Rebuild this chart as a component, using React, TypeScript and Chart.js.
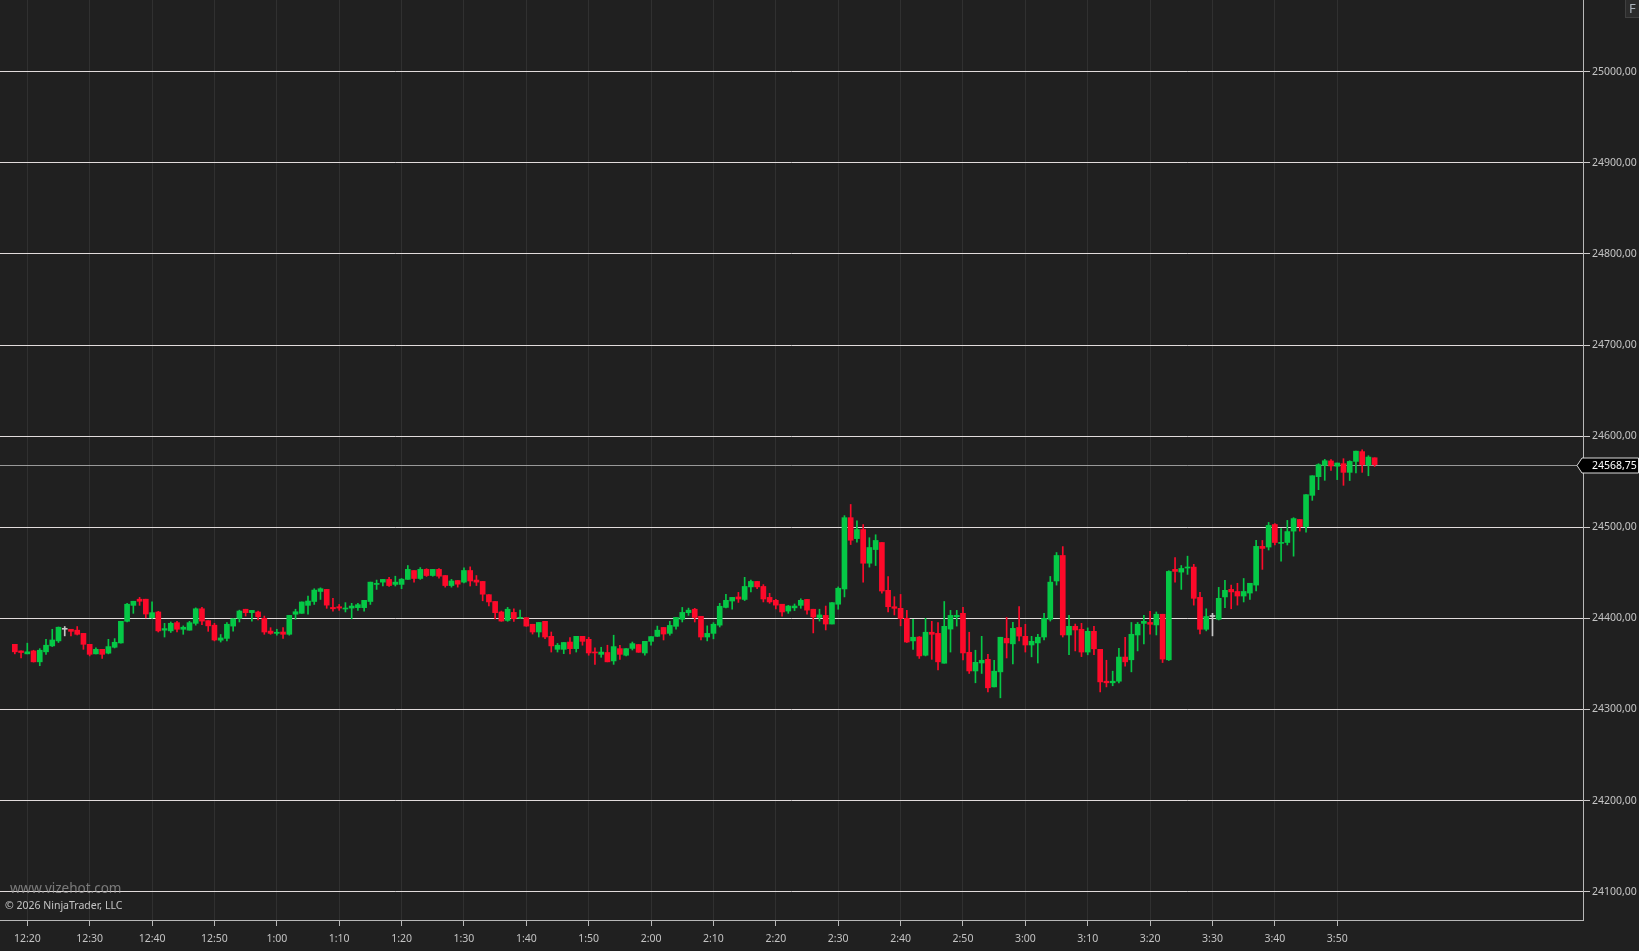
import { useEffect, useRef } from 'react';
import { Chart, registerables } from 'chart.js';

Chart.register(...registerables);

// 1-minute bars, first bar at 12:18 (two minutes before the 12:20 tick)
const FIRST_BAR_MINUTE = -2;

const OPEN = [
  24371.5, 24364.25, 24361, 24364.25, 24352.25, 24363.25, 24369.75, 24375.25, 24388, 24388,
  24387, 24383.5, 24371.5, 24361, 24366, 24361.75, 24368.25, 24373, 24396.75, 24414.25,
  24421, 24421, 24400.75, 24407, 24387, 24386.25, 24395.25, 24388, 24387, 24394.5,
  24410.5, 24397.5, 24392.5, 24376, 24378, 24391.5, 24400, 24410, 24406.25, 24407,
  24400, 24386, 24383.5, 24385, 24382.5, 24404.5, 24405.5, 24414.25, 24418.5, 24429.5,
  24431.75, 24412, 24412.75, 24410.25, 24411.25, 24411.75, 24411.75, 24418.5, 24437.25, 24439.75,
  24442.75, 24437.25, 24437.25, 24442.75, 24452.5, 24443.75, 24453.75, 24447, 24453.75, 24447,
  24436, 24441.5, 24439.75, 24452.5, 24442, 24440.5, 24426, 24418.5, 24407, 24397.75,
  24406.5, 24400, 24400.75, 24393.5, 24385, 24396.75, 24380.25, 24366, 24366, 24374,
  24366.75, 24380.25, 24377, 24363, 24360.5, 24362.5, 24353.25, 24366.75, 24359.5, 24367,
  24371.25, 24362, 24374.75, 24380.25, 24390, 24383.5, 24391.25, 24399, 24406.25, 24410,
  24402.25, 24379.5, 24383.5, 24392.5, 24412, 24419, 24423.5, 24420.75, 24434.5, 24440.5,
  24435, 24423, 24419.75, 24415.5, 24408, 24411.5, 24414.25, 24420.75, 24410, 24401,
  24403.25, 24393.75, 24415.5, 24432.25, 24510.5, 24487.5, 24497.5, 24460.5, 24475.5, 24483.25,
  24430.75, 24412.75, 24411, 24400, 24375.25, 24379.5, 24359.5, 24384.75, 24383.5, 24350.75,
  24388.25, 24401.75, 24405.5, 24362.75, 24342.25, 24351, 24355, 24324.75, 24341.25, 24378,
  24372, 24390, 24380.25, 24370.75, 24373, 24379.5, 24399, 24441, 24469, 24381.75,
  24391.25, 24388, 24363, 24385.75, 24366, 24331, 24329.25, 24331, 24357.5, 24354.5,
  24381.75, 24394.5, 24395.5, 24392.75, 24404.5, 24354.5, 24453.75, 24450.75, 24455.25, 24456.25,
  24423, 24388, 24402, 24399, 24423.5, 24431.75, 24429.5, 24424.5, 24427.75, 24436.5,
  24479, 24478.25, 24503, 24482.25, 24483.25, 24495.75, 24508.5, 24500.75, 24535, 24555.5,
  24568, 24572.75, 24567, 24569.75, 24560.25, 24572.25, 24583, 24568.25, 24576.25,
];

const HIGH = [
  24371.5, 24364.25, 24372.75, 24365, 24366.75, 24377, 24388, 24390.5, 24391, 24388,
  24391, 24383.5, 24371.5, 24367.5, 24366, 24377, 24377.75, 24396.75, 24416.5, 24418.75,
  24423, 24421, 24418, 24407.75, 24394.5, 24396, 24396.75, 24391.75, 24396.75, 24411.5,
  24412, 24397.5, 24394.5, 24382.25, 24395.25, 24399.5, 24409, 24410, 24408.75, 24408,
  24402.5, 24389.75, 24388, 24389.75, 24403.25, 24410, 24418, 24424.5, 24432.5, 24433.5,
  24431.75, 24422, 24415.25, 24417.25, 24416.5, 24416.5, 24419.75, 24439.75, 24442, 24442.75,
  24445, 24446.25, 24443.75, 24458, 24452.5, 24455.75, 24454.5, 24453.75, 24454.5, 24447,
  24442.75, 24441.5, 24455.5, 24456.5, 24447, 24440.5, 24426, 24418.5, 24408, 24412,
  24410.5, 24409, 24400.75, 24393.5, 24395.5, 24396.75, 24385, 24372.5, 24373.5, 24378.75,
  24380.25, 24380.25, 24379.25, 24367.5, 24368.25, 24370.5, 24381.5, 24370.5, 24366.75, 24374,
  24371.25, 24374.75, 24380, 24391.5, 24390, 24396.75, 24401, 24412, 24411.25, 24411,
  24402.25, 24391.75, 24395.25, 24416.5, 24426.25, 24423, 24428.5, 24445, 24442, 24440.5,
  24437, 24427.5, 24420.75, 24415.5, 24414.25, 24415.75, 24421.5, 24420.75, 24410, 24410,
  24413.5, 24417.25, 24434.5, 24512.75, 24525, 24507, 24503, 24488.5, 24491.75, 24483.25,
  24445.75, 24423.75, 24426.25, 24408.75, 24399, 24380, 24400, 24396.75, 24395.25, 24418.5,
  24408.75, 24408.75, 24412, 24384.75, 24365, 24380.25, 24360.5, 24354, 24379.25, 24401,
  24395.5, 24413, 24393.5, 24380.25, 24382.5, 24405.5, 24446, 24472.25, 24478.75, 24403.25,
  24393.75, 24394.5, 24389.5, 24391.25, 24366, 24354, 24342, 24367, 24379.25, 24395.5,
  24395.5, 24403.25, 24407.75, 24407, 24404.5, 24452.25, 24466.75, 24458, 24468.25, 24459.25,
  24428.5, 24410.5, 24405.5, 24434, 24441.75, 24436.5, 24438.5, 24443.75, 24438.5, 24485.5,
  24485.5, 24505.25, 24504, 24498.5, 24507.5, 24510.5, 24508.5, 24535.75, 24556.5, 24569.75,
  24574.5, 24574.25, 24570.5, 24575.25, 24573, 24583.5, 24585, 24578.5, 24576.25,
];

const LOW = [
  24361, 24356.5, 24361, 24352, 24348, 24360.5, 24369, 24373.5, 24380.75, 24380.75,
  24381.75, 24366, 24358.75, 24361, 24356, 24361, 24367.5, 24372.75, 24396, 24405.5,
  24414.25, 24400.5, 24400, 24385, 24379.5, 24384.5, 24385, 24382.5, 24387, 24392.5,
  24393, 24385.75, 24375.25, 24374, 24375.25, 24386, 24396, 24402.5, 24397, 24398.25,
  24382.5, 24382.5, 24381.5, 24378, 24381.5, 24399, 24405.5, 24404.5, 24415.25, 24420.75,
  24411, 24408, 24408.75, 24407, 24399.5, 24408.75, 24408, 24415.25, 24431.75, 24435.5,
  24435, 24435.5, 24432.5, 24442.75, 24439.75, 24442.75, 24446, 24446.25, 24444, 24434.25,
  24434.25, 24434.25, 24439, 24435.5, 24436, 24419.25, 24413.5, 24399.5, 24396.75, 24396.75,
  24396.75, 24400, 24391.25, 24382.75, 24379.5, 24377.75, 24363, 24363, 24361.25, 24361,
  24363, 24370.5, 24359.5, 24349.5, 24357.25, 24352.25, 24349.5, 24355, 24358.75, 24365.25,
  24362.75, 24359.5, 24370.5, 24380, 24376.25, 24381.5, 24388, 24396, 24403.25, 24396,
  24376.25, 24375.25, 24377.5, 24390.5, 24411.5, 24410, 24417.5, 24419.5, 24429, 24432.5,
  24418, 24416.5, 24410.25, 24402.25, 24405.5, 24408.5, 24411, 24404.5, 24384, 24397,
  24387.25, 24393.75, 24410, 24423.5, 24481, 24483.5, 24439.75, 24456.25, 24458, 24427.75,
  24407, 24403.75, 24391.75, 24373.5, 24366, 24356, 24358.75, 24355, 24343.5, 24350.75,
  24363, 24391.5, 24354.5, 24339.5, 24329.25, 24339.5, 24319.25, 24324.75, 24312.75, 24356.5,
  24350, 24375.25, 24363, 24357.75, 24351, 24376.25, 24397, 24436.5, 24379.5, 24360,
  24364.25, 24358, 24360, 24360, 24319.25, 24324.75, 24326, 24329.25, 24347.5, 24341.25,
  24364.25, 24372, 24382.5, 24381.75, 24351.5, 24353.75, 24439.75, 24431.75, 24448.25, 24414.5,
  24383, 24386.25, 24380.75, 24398.25, 24411.75, 24410.5, 24414.5, 24418, 24420.75, 24430,
  24453.75, 24475, 24480.5, 24462.75, 24480.5, 24468.25, 24495.75, 24494.5, 24529.5, 24541.25,
  24551.5, 24562.5, 24552.25, 24546, 24551.25, 24559.5, 24560.25, 24556.5, 24566.75,
];

const CLOSE = [
  24363.25, 24362.5, 24363.25, 24352.25, 24365, 24370.5, 24376.25, 24390.25, 24388, 24385.75,
  24382.5, 24371.5, 24360.5, 24366, 24360.5, 24369, 24373.75, 24396.75, 24415.5, 24418.75,
  24418.75, 24404.75, 24406.25, 24386.25, 24388.75, 24394.5, 24388, 24390.25, 24395.25, 24410.5,
  24397, 24391.75, 24376.25, 24378.5, 24393.5, 24399.5, 24408, 24406.25, 24408.75, 24401.75,
  24385, 24383.5, 24384.75, 24382.5, 24403.25, 24407.25, 24418, 24419, 24431, 24432.5,
  24414.5, 24410.5, 24411.25, 24411.25, 24413.5, 24415, 24419.75, 24439.75, 24438.25, 24442.75,
  24436, 24439.75, 24443, 24453.75, 24443.75, 24453.75, 24447, 24453.75, 24446.25, 24436,
  24441, 24437.5, 24452.5, 24441, 24439.75, 24426.5, 24418, 24406.25, 24397, 24410,
  24399.5, 24401, 24391.5, 24385, 24395.5, 24379.5, 24369.75, 24370.5, 24373.5, 24366.75,
  24380.25, 24374.75, 24362, 24362, 24363, 24352.25, 24369, 24360.5, 24366.75, 24372.25,
  24362.75, 24374.75, 24380, 24387, 24382.75, 24392.25, 24401, 24406.5, 24409, 24401,
  24379.5, 24383.5, 24393.5, 24413.25, 24419.75, 24423, 24421.25, 24435, 24440.5, 24434.5,
  24421.25, 24418, 24414.5, 24407, 24413.5, 24413.5, 24419.75, 24409, 24401.5, 24403.75,
  24393.75, 24417.25, 24433, 24510.5, 24485.75, 24497.5, 24460.5, 24477.75, 24485.5, 24430,
  24412.75, 24411, 24399.75, 24374, 24379.25, 24358.75, 24384.75, 24382.5, 24352.25, 24391.25,
  24403.25, 24403.25, 24362, 24342.25, 24351.75, 24354, 24323.75, 24342, 24379.25, 24373,
  24389, 24380.5, 24370.75, 24374.75, 24379.25, 24400, 24439.75, 24469, 24381.75, 24391.25,
  24387.25, 24363, 24385.75, 24366.5, 24330.25, 24329.25, 24331, 24357.5, 24352.25, 24382.5,
  24393.5, 24396.75, 24393.5, 24404.5, 24355.25, 24451.5, 24451.5, 24454.75, 24456.25, 24422,
  24388, 24402, 24402, 24422, 24430.75, 24429, 24424.5, 24429.5, 24438.5, 24479,
  24476.75, 24502, 24483.25, 24483.25, 24495.25, 24509.5, 24500.75, 24535.75, 24556.5, 24568.75,
  24573, 24567.25, 24570.5, 24560.25, 24572.25, 24583.5, 24568.75, 24577, 24568.75,
];

const LAST_PRICE = 24568.75;

// minutes relative to 12:20
const X_TICK_VALUES = [0, 10, 20, 30, 40, 50, 60, 70, 80, 90, 100, 110, 120, 130, 140, 150, 160, 170, 180, 190, 200, 210];
const X_TICK_LABELS = ['12:20', '12:30', '12:40', '12:50', '1:00', '1:10', '1:20', '1:30', '1:40', '1:50', '2:00', '2:10', '2:20', '2:30', '2:40', '2:50', '3:00', '3:10', '3:20', '3:30', '3:40', '3:50'];
const X_MIN = -4.377;
const X_MAX = 249.4;

const Y_TICKS = [24100, 24200, 24300, 24400, 24500, 24600, 24700, 24800, 24900, 25000];
const Y_MIN = 24068.9;
const Y_MAX = 25078.7;

const UP = '#05c846';
const DOWN = '#fd0a2a';
const DOJI = '#c8c8c8';
const BG = '#202020';
const TEXT = '#c4c4c4';
const FONT = '"Noto Sans", "Open Sans", sans-serif';

const fmt = (v: number) => v.toFixed(2).replace('.', ',');

export default function App() {
  const ref = useRef<HTMLCanvasElement | null>(null);

  useEffect(() => {
    document.body.style.margin = '0';
    document.body.style.background = BG;
    const canvas = ref.current;
    if (!canvas) return;

    const xs = OPEN.map((_, i) => i + FIRST_BAR_MINUTE);
    const colors = OPEN.map((o, i) => (CLOSE[i] > o ? UP : CLOSE[i] < o ? DOWN : DOJI));

    const bgPlugin = {
      id: 'bg',
      beforeDraw(chart: any) {
        const { ctx, width, height } = chart;
        ctx.save();
        ctx.fillStyle = BG;
        ctx.fillRect(0, 0, width, height);
        ctx.restore();
      },
      beforeDatasetsDraw(chart: any) {
        const { ctx, chartArea } = chart;
        const y = Math.round(chart.scales.y.getPixelForValue(LAST_PRICE)) + 0.5;
        ctx.save();
        ctx.strokeStyle = 'rgba(175,175,175,0.85)';
        ctx.lineWidth = 1;
        ctx.beginPath();
        ctx.moveTo(chartArea.left, y);
        ctx.lineTo(chartArea.right, y);
        ctx.stroke();
        ctx.restore();
      },
      afterDraw(chart: any) {
        const { ctx, chartArea, width } = chart;
        const y = Math.round(chart.scales.y.getPixelForValue(LAST_PRICE)) + 0.5;
        ctx.save();
        // price marker
        const tip = chartArea.right - 6;
        const bx = chartArea.right - 1;
        const h = 7.5;
        ctx.beginPath();
        ctx.moveTo(tip, y);
        ctx.lineTo(bx, y - h);
        ctx.lineTo(width - 0.5, y - h);
        ctx.lineTo(width - 0.5, y + h);
        ctx.lineTo(bx, y + h);
        ctx.closePath();
        ctx.fillStyle = '#000';
        ctx.fill();
        ctx.strokeStyle = '#d8d8d8';
        ctx.lineWidth = 1;
        ctx.stroke();
        ctx.fillStyle = '#ffffff';
        ctx.font = `10.5px ${FONT}`;
        ctx.textBaseline = 'middle';
        ctx.textAlign = 'left';
        ctx.fillText(fmt(LAST_PRICE), chartArea.right + 9, y + 0.5);

        // F button
        ctx.fillStyle = '#2c2c2c';
        ctx.fillRect(width - 14, 0, 14, 18);
        ctx.strokeStyle = '#404040';
        ctx.strokeRect(width - 13.5, -0.5, 14, 18);
        ctx.fillStyle = '#aab2ba';
        ctx.font = `13px ${FONT}`;
        ctx.textBaseline = 'middle';
        ctx.fillText('F', width - 10, 9);

        // watermark + copyright
        ctx.fillStyle = 'rgba(160,160,160,0.7)';
        ctx.font = `13.5px ${FONT}`;
        ctx.textBaseline = 'alphabetic';
        ctx.fillText('www.vizehot.com', 10, 893);
        ctx.fillStyle = TEXT;
        ctx.font = `10.5px ${FONT}`;
        ctx.textBaseline = 'middle';
        ctx.fillText('© 2026 NinjaTrader, LLC', 5, 906);
        ctx.restore();
      },
    };

    const chart = new Chart(canvas, {
      type: 'bar',
      data: {
        datasets: [
          {
            label: 'wick',
            data: xs.map((x, i) => ({ x, y: [LOW[i], HIGH[i]] })) as any,
            backgroundColor: colors,
            barThickness: 1,
            grouped: false,
            order: 2,
          } as any,
          {
            label: 'body',
            data: xs.map((x, i) => ({ x, y: [OPEN[i], CLOSE[i]] })) as any,
            backgroundColor: colors,
            barThickness: 5,
            minBarLength: 1,
            grouped: false,
            order: 1,
          } as any,
        ],
      },
      options: {
        responsive: false,
        animation: false,
        devicePixelRatio: 1,
        events: [],
        layout: { padding: 0 },
        plugins: { legend: { display: false }, tooltip: { enabled: false } },
        scales: {
          x: {
            type: 'linear',
            min: X_MIN,
            max: X_MAX,
            offset: false,
            afterBuildTicks: (s: any) => {
              s.ticks = X_TICK_VALUES.map((v) => ({ value: v }));
            },
            afterFit: (s: any) => {
              s.height = 31;
              s.paddingLeft = 0;
              s.paddingRight = 0;
            },
            ticks: {
              autoSkip: false,
              maxRotation: 0,
              padding: 7,
              color: TEXT,
              font: { family: FONT, size: 10.5 },
              callback: (_v: any, i: number) => X_TICK_LABELS[i],
            },
            grid: {
              offset: false,
              color: 'rgba(255,255,255,0.075)',
              lineWidth: 1,
              tickColor: '#b8b8b8',
              tickLength: 6,
            },
            border: { color: '#b8b8b8', width: 1 },
          } as any,
          y: {
            type: 'linear',
            position: 'right',
            min: Y_MIN,
            max: Y_MAX,
            afterBuildTicks: (s: any) => {
              s.ticks = Y_TICKS.map((v) => ({ value: v }));
            },
            afterFit: (s: any) => {
              s.width = 56;
              s.paddingTop = 0;
              s.paddingBottom = 0;
            },
            ticks: {
              padding: 2,
              color: TEXT,
              font: { family: FONT, size: 10.5 },
              callback: (v: any) => fmt(Number(v)),
            },
            grid: {
              color: '#e2dcdc',
              lineWidth: 1,
              tickColor: '#d0cccc',
              tickLength: 7,
            },
            border: { color: '#b8b8b8', width: 1 },
          } as any,
        },
      },
      plugins: [bgPlugin],
    });

    return () => chart.destroy();
  }, []);

  return <canvas ref={ref} width={1639} height={951} style={{ display: 'block' }} />;
}
